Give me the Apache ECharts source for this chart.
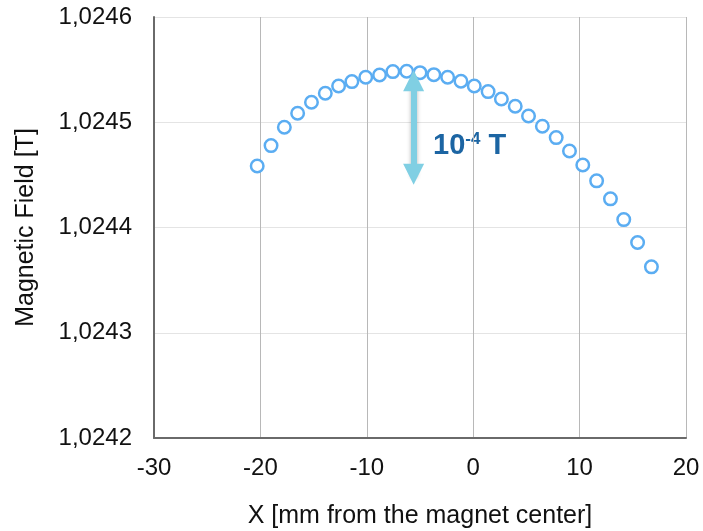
<!DOCTYPE html>
<html>
<head>
<meta charset="utf-8">
<title>Magnetic Field</title>
<script src="https://cdn.jsdelivr.net/npm/echarts@6/dist/echarts.min.js"></script>
<style type="text/css">
    html, body { margin: 0; padding: 0; background: #fff; }
    #chartsbox { width: 703px; height: 531px; }
</style>
</head>
<body>
<div id="chartsbox"></div>
<script type="text/javascript">
    // positions along the magnet (mm) and measured field (T)
    var xPos = [-20.3, -19.0, -17.75, -16.5, -15.2, -13.9, -12.65, -11.4, -10.1, -8.8,
                -7.55, -6.25, -5.0, -3.7, -2.4, -1.15, 0.1, 1.4, 2.65, 3.95,
                5.2, 6.5, 7.8, 9.05, 10.3, 11.6, 12.9, 14.15, 15.45, 16.75];
    var field = [1.0244585, 1.0244778, 1.0244952, 1.0245085, 1.0245190, 1.0245275, 1.0245345, 1.0245386, 1.0245427, 1.0245449,
                 1.0245481, 1.0245484, 1.0245471, 1.0245452, 1.0245427, 1.0245389, 1.0245345, 1.0245291, 1.0245221, 1.0245152,
                 1.0245060, 1.0244962, 1.0244854, 1.0244727, 1.0244594, 1.0244443, 1.0244272, 1.0244075, 1.0243857, 1.0243626];

    // axis ranges
    var xTicks = [-30, -20, -10, 0, 10, 20];
    var yTicks = [1.0242, 1.0243, 1.0244, 1.0245, 1.0246];

    // the 10^-4 T scale arrow (data coords)
    var arrowX = -5.6;
    var arrowFrom = 1.0245395;
    var arrowTo = 1.0244505;

    var font = "'Liberation Sans', Arial, Helvetica, sans-serif";
    var labelBlue = '#1c65a3';

    var points = [];
    for (var i = 0; i < xPos.length; i++) {
        points.push([xPos[i], field[i]]);
    }

    var myChart = echarts.init(document.getElementById('chartsbox'));
    var option = {
        animation: false,
        grid: {
            left: 154,
            right: 17,
            top: 17,
            bottom: 93,
            outerBoundsMode: 'none'   // keep the plot box where we put it
        },
        xAxis: {
            type: 'value',
            min: xTicks[0],
            max: xTicks[xTicks.length - 1],
            interval: 10,
            name: 'X [mm from the magnet center]',
            nameLocation: 'middle',
            nameGap: 66,
            nameTextStyle: { fontFamily: font, fontSize: 25, color: '#111' },
            axisLine: { onZero: false, lineStyle: { color: '#6a6a6a', width: 2 } },
            axisTick: { show: false },
            axisLabel: { fontFamily: font, fontSize: 24, color: '#111', margin: 18 },
            splitLine: { lineStyle: { color: '#b8b8b8', width: 1 } }
        },
        yAxis: {
            type: 'value',
            min: yTicks[0],
            max: yTicks[yTicks.length - 1],
            interval: 0.0001,
            name: 'Magnetic Field [T]',
            nameLocation: 'middle',
            nameGap: 115,
            nameTextStyle: { fontFamily: font, fontSize: 25, color: '#111' },
            axisLine: { show: true, onZero: false, lineStyle: { color: '#6a6a6a', width: 2 } },
            axisTick: { show: false },
            axisLabel: {
                fontFamily: font, fontSize: 24, color: '#111', margin: 22,
                formatter: function (v) { return v.toFixed(4).replace('.', ','); }
            },
            splitLine: { lineStyle: { color: '#e4e4e4', width: 1 } }
        },
        series: [
            {
                type: 'scatter',
                data: points,
                symbol: 'circle',
                symbolSize: 12.5,
                itemStyle: {
                    color: '#ffffff',
                    borderColor: '#5badf2',
                    borderWidth: 2.5,
                    opacity: 1
                },
                markLine: {
                    silent: true,
                    symbol: ['triangle', 'triangle'],
                    symbolSize: 21,
                    label: { show: false },
                    lineStyle: {
                        type: 'solid',
                        color: '#80cfe3',
                        width: 6,
                        opacity: 1,
                        shadowBlur: 4,
                        shadowOffsetY: 3,
                        shadowColor: 'rgba(0,0,0,0.3)'
                    },
                    data: [
                        [{ coord: [arrowX, arrowFrom] }, { coord: [arrowX, arrowTo] }]
                    ]
                }
            }
        ],
        graphic: [
            {
                type: 'text',
                left: 433,
                top: 131,
                style: {
                    text: '{a|10}{s|-4}{a| T}',
                    fill: labelBlue,
                    rich: {
                        a: { fontFamily: font, fontSize: 29, fontWeight: 'bold', fill: labelBlue, lineHeight: 29 },
                        s: { fontFamily: font, fontSize: 17, fontWeight: 'bold', fill: labelBlue, lineHeight: 17, verticalAlign: 'top' }
                    }
                }
            }
        ]
    };
    myChart.setOption(option);
</script>
</body>
</html>
